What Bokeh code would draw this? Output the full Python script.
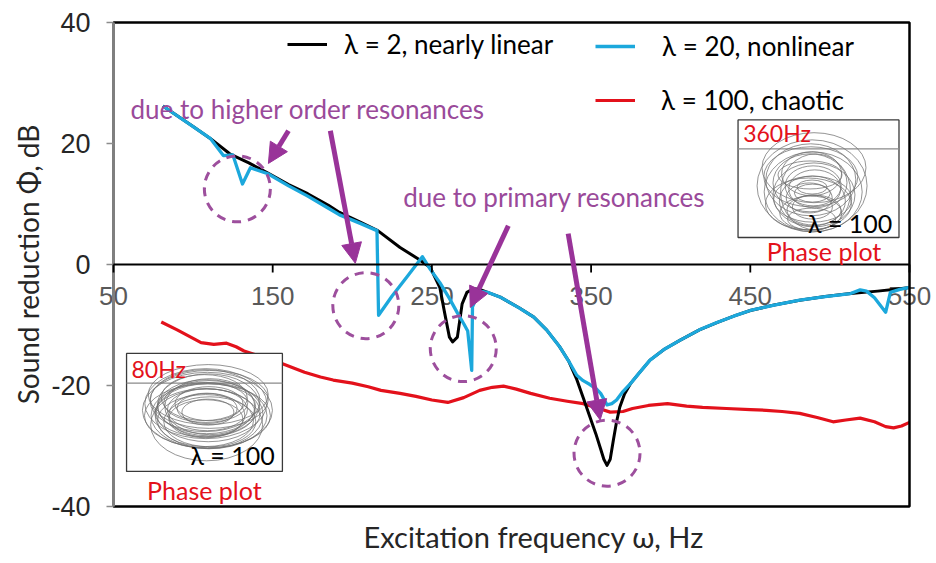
from bokeh.plotting import figure
from bokeh.models import Range1d, Legend, LegendItem, Arrow, NormalHead, FixedTicker, Title
from bokeh.embed import file_html
from bokeh.resources import INLINE
from bokeh.core.properties import value

# ---------------- data ----------------
freq_black = [81, 100, 111, 123, 135, 147, 160, 172, 185, 192, 205, 216, 230, 241, 249, 255, 258, 261,
              263, 266, 269, 272, 276, 280, 285, 293, 305, 314, 322, 330, 336, 341, 345, 349, 353, 356,
              358, 360, 362, 364, 366, 368, 371, 375, 380, 387, 396, 406, 418, 429, 440, 450, 465, 481,
              497, 513, 530, 544, 550]
phi_black = [26.2, 22.8, 20.8, 18.3, 16.8, 15.1, 13.2, 11.7, 9.8, 8.6, 7.0, 5.6, 2.8, 1.0, -0.5, -3.8, -8.0, -12.0,
             -12.8, -12.0, -6.5, -4.6, -4.0, -4.1, -4.6, -5.4, -7.2, -8.7, -10.8, -13.5, -16.0, -19.0, -22.0, -25.0, -28.0, -30.5,
             -32.2, -33.2, -32.2, -29.0, -26.0, -23.6, -21.4, -19.6, -18.0, -15.8, -14.0, -12.5, -10.8, -9.6, -8.5, -7.6, -6.7, -5.9,
             -5.3, -4.8, -4.4, -4.0, -3.8]

freq_cyan = [81, 100, 111, 119, 125, 131, 136, 147, 160, 172, 185, 192, 205, 215.5, 216.5, 225, 235, 244, 249,
             255, 261, 266, 270, 272.5, 275, 275.5, 280, 285, 293, 305, 314, 322, 330, 336, 341, 345, 349,
             353, 356, 360, 363, 366, 370, 375, 380, 387, 396, 406, 418, 429, 440, 450, 465, 481, 497, 513,
             519, 523, 528, 535, 538, 544, 550]
phi_cyan = [26.2, 22.8, 20.8, 18.0, 18.1, 13.3, 16.0, 15.0, 13.0, 11.3, 9.3, 8.2, 6.8, 5.6, -8.4, -5.2, -1.8, 1.3, -0.8,
            -3.0, -5.6, -8.0, -9.8, -11.0, -17.5, -7.0, -4.4, -4.6, -5.4, -7.2, -8.7, -10.8, -13.5, -16.0, -18.3, -19.2, -19.8,
            -20.5, -21.3, -23.2, -23.0, -22.4, -21.0, -19.6, -18.0, -15.8, -14.0, -12.5, -10.8, -9.6, -8.5, -7.6, -6.7, -5.9, -5.3, -4.8,
            -4.2, -4.4, -5.5, -7.9, -4.6, -4.1, -3.8]

freq_red = [80, 90, 100, 105, 113, 121, 127, 132, 140, 150, 159, 170, 180, 188, 200, 210, 218, 230, 240, 250,
            260, 270, 280, 288, 295, 303, 312, 324, 335, 345, 355, 362, 370, 376, 386, 398, 410, 420, 435, 450,
            460, 470, 481, 492, 502, 510, 519, 528, 535, 540, 545, 550]
phi_red = [-9.5, -10.8, -12.2, -12.9, -13.2, -13.0, -13.6, -14.3, -15.0, -15.8, -16.7, -17.8, -18.6, -19.1, -19.6, -20.2, -20.8, -21.3, -21.8, -22.4,
           -22.8, -22.0, -20.8, -20.3, -20.1, -20.6, -21.3, -22.1, -22.6, -23.0, -23.8, -24.4, -24.3, -23.8, -23.3, -23.0, -23.4, -23.6, -23.8, -24.0,
           -24.1, -24.3, -24.6, -25.3, -26.0, -25.7, -25.4, -26.0, -26.8, -27.0, -26.7, -26.1]

x_ticks = [50, 150, 250, 350, 450, 550]
x_tick_labels = ["50", "150", "250", "350", "450", "550"]
y_ticks = [-40, -20, 0, 20, 40]
y_tick_labels = {-40: "-40", -20: "-20", 0: "0", 20: "20", 40: "40"}
X_MIN, X_MAX, Y_MIN, Y_MAX = 50, 550, -40, 40

series_labels = ["\u03bb = 2, nearly linear", "\u03bb = 20, nonlinear", "\u03bb = 100, chaotic"]
series_colors = ["#000000", "#1ca8dc", "#e3111b"]

# annotations
note_text = ["due to higher order resonances", "due to primary resonances"]
note_x = [60.7, 232.0]
note_y = [25.7, 11.1]
circle_x = [127.8, 208.5, 269.7, 360.0]
circle_y = [12.5, -6.8, -13.9, -31.2]
arrow_x0 = [159.9, 186.2, 298.0, 335.6]
arrow_y0 = [22.1, 22.1, 6.4, 5.1]
arrow_x1 = [147.3, 201.9, 274.1, 355.7]
arrow_y1 = [16.7, 0.2, -7.1, -25.7]

# insets (phase plots)
inset_left = [442.3, 58.2]
inset_right = [543.4, 156.1]
inset_top = [23.9, -14.7]
inset_bottom = [4.46, -34.2]
inset_axis_y = [19.1, -19.6]
inset_freq = ["360Hz", "80Hz"]
inset_freq_x = [445.5, 61.3]
inset_freq_y = [21.8, -17.2]
inset_lam_x = [486.3, 98.3]
inset_lam_y = [6.9, -31.5]
inset_pp_x = [496.3, 107.1]
inset_pp_y = [2.3, -37.3]
loop1_x = [488.8, 489.5, 488.0, 490.0, 487.5, 489.0, 488.5, 490.5, 487.0, 489.0, 488.0, 491.0, 486.5, 489.5,
           488.0, 490.0, 488.5, 489.0, 487.5, 490.0, 488.8, 489.2]
loop1_y = [13.0, 12.0, 14.0, 11.5, 13.5, 10.5, 15.0, 12.5, 11.0, 9.5, 14.5, 12.0, 10.0, 13.0,
           8.5, 16.0, 7.5, 11.8, 14.8, 9.0, 12.8, 10.8]
loop1_w = [110, 98, 90, 82, 74, 66, 60, 52, 46, 40, 94, 70, 86, 56, 62, 104, 48, 36, 64, 54, 30, 78]
loop1_h = [92, 80, 72, 64, 58, 50, 44, 38, 30, 24, 60, 76, 52, 40, 34, 70, 22, 18, 28, 30, 14, 46]
loop2_x = [109.0, 108.0, 110.0, 107.5, 109.5, 108.5, 110.5, 107.0, 109.0, 108.0, 110.0, 109.5, 108.5, 107.5,
           110.5, 109.0, 108.0, 110.0, 108.8, 109.3, 107.8, 110.2, 108.6, 109.6]
loop2_y = [-24.1, -23.0, -25.0, -22.5, -24.5, -23.5, -26.0, -22.0, -24.0, -25.5, -23.0, -21.5, -26.5, -24.5,
           -23.5, -25.0, -22.8, -24.8, -23.8, -24.4, -25.8, -22.3, -24.9, -23.2]
loop2_w = [130, 122, 116, 110, 104, 98, 92, 86, 80, 74, 68, 120, 112, 100, 90, 126, 84, 108, 60, 52, 96, 118, 76, 102]
loop2_h = [76, 70, 66, 62, 58, 54, 50, 46, 42, 38, 34, 60, 72, 48, 56, 64, 40, 68, 30, 26, 52, 58, 44, 62]

PURPLE = "#993399"
PURPLE_TXT = "#9a4a9a"
TXT_FONT = "Lato"

# ---------------- layout geometry ----------------
W, H = 936, 563
BOX_L, BOX_R, BOX_T, BOX_B = 113, 909, 22, 506      # pixel box of the data area 50..550 / -40..40
FR_L, FR_R, FR_T, FR_B = 93, 933, 20, 508           # plotting frame (slightly larger, so edge labels show)
px_x = (BOX_R - BOX_L) / (X_MAX - X_MIN)
px_y = (BOX_B - BOX_T) / (Y_MAX - Y_MIN)
xr = Range1d(X_MIN - (BOX_L - FR_L) / px_x, X_MAX + (FR_R - BOX_R) / px_x)
yr = Range1d(Y_MIN - (FR_B - BOX_B) / px_y, Y_MAX + (BOX_T - FR_T) / px_y)

p = figure(width=W, height=H, x_range=xr, y_range=yr,
           output_backend="svg", toolbar_location=None,
           min_border_left=FR_L, min_border_right=W - FR_R, min_border_top=FR_T, min_border_bottom=H - FR_B)
p.background_fill_color = "white"
p.border_fill_color = "white"
p.grid.visible = False
p.outline_line_color = None

p.xaxis.visible = False
p.yaxis.ticker = FixedTicker(ticks=y_ticks)
p.yaxis.major_label_overrides = y_tick_labels
p.yaxis.minor_tick_line_color = None
p.yaxis.major_tick_line_color = None
p.yaxis.major_tick_in = 0
p.yaxis.major_tick_out = 0
p.yaxis.axis_line_color = None
p.yaxis.major_label_standoff = 3
p.yaxis.major_label_text_font = "Liberation Sans"
p.yaxis.major_label_text_font_size = "27px"
p.yaxis.major_label_text_color = "#262626"

# x tick labels below the zero line (drawn first, curves go over them)
p.text(x=x_ticks, y=[0] * len(x_ticks), text=x_tick_labels, y_offset=22,
       text_align="center", text_baseline="top", text_font=value("Liberation Sans"),
       text_font_size="26px", text_color="#595959")

# curves
r_red = p.line(freq_red, phi_red, line_color=series_colors[2], line_width=3.2, line_join="round")
r_black = p.line(freq_black, phi_black, line_color=series_colors[0], line_width=3, line_join="round")
r_cyan = p.line(freq_cyan, phi_cyan, line_color=series_colors[1], line_width=3.3, line_join="round")

# frame box, zero line, ticks
p.quad(left=[X_MIN], right=[X_MAX], top=[Y_MAX], bottom=[Y_MIN], fill_color=None,
       line_color="black", line_width=2.5)
p.segment(x0=[X_MIN], y0=[Y_MIN], x1=[X_MIN], y1=[Y_MAX], line_color="#7f7f7f", line_width=3)
p.segment(x0=[X_MIN - 7 / px_x] * len(y_ticks), y0=y_ticks, x1=[X_MIN] * len(y_ticks), y1=y_ticks,
          line_color="#8c8c8c", line_width=1.5)
p.segment(x0=[X_MIN], y0=[0], x1=[X_MAX], y1=[0], line_color="black", line_width=1.8)
p.segment(x0=x_ticks, y0=[0] * len(x_ticks), x1=x_ticks, y1=[-8 / px_y] * len(x_ticks),
          line_color="black", line_width=1.8)

# insets
p.quad(left=inset_left, right=inset_right, top=inset_top, bottom=inset_bottom,
       fill_color="white", line_color="#3a3a3a", line_width=1.3)
p.segment(x0=inset_left, y0=inset_axis_y, x1=inset_right, y1=inset_axis_y, line_color="#8a8a8a", line_width=1.3)
p.ellipse(x=loop1_x, y=loop1_y, width=loop1_w, height=loop1_h, width_units="screen", height_units="screen",
          fill_color=None, line_color="#707070", line_alpha=0.75, line_width=1)
p.ellipse(x=loop2_x, y=loop2_y, width=loop2_w, height=loop2_h, width_units="screen", height_units="screen",
          fill_color=None, line_color="#707070", line_alpha=0.75, line_width=1)
p.text(x=inset_freq_x, y=inset_freq_y, text=inset_freq, text_align="left", text_baseline="middle",
       text_font=value(TXT_FONT), text_font_size="23px", text_color="#e3111b")
p.text(x=inset_lam_x, y=inset_lam_y, text=["\u03bb = 100"] * 2, text_align="left", text_baseline="middle",
       text_font=value(TXT_FONT), text_font_size="25px", text_color="black")
p.text(x=inset_pp_x, y=inset_pp_y, text=["Phase plot"] * 2, text_align="center", text_baseline="middle",
       text_font=value(TXT_FONT), text_font_size="25px", text_color="#e3111b")

# annotation circles, arrows, texts
p.scatter(x=circle_x, y=circle_y, size=66, marker="circle", fill_color=None,
          line_color="#9d4f9d", line_width=3, line_dash="9 7")
for xs, ys, xe, ye in zip(arrow_x0, arrow_y0, arrow_x1, arrow_y1):
    p.add_layout(Arrow(end=NormalHead(size=20, fill_color=PURPLE, line_color=PURPLE),
                       x_start=xs, y_start=ys, x_end=xe, y_end=ye,
                       line_color=PURPLE, line_width=5))
p.text(x=note_x, y=note_y, text=note_text, text_align="left", text_baseline="middle",
       text_font=value(TXT_FONT), text_font_size="26px", text_color=PURPLE_TXT)

# legends (locations relative to the frame's bottom-left corner)
leg_r = [r_black, r_cyan, r_red]
leg_px = [(287, 60), (595, 62), (595, 116)]   # left / bottom pixel of each legend entry
leg_standoff = [17, 27, 26]
for r, lab, (lx, lb), so in zip(leg_r, series_labels, leg_px, leg_standoff):
    lg = Legend(items=[LegendItem(label=lab, renderers=[r])], location=(lx - FR_L, FR_B - lb),
                glyph_width=40, glyph_height=24, label_height=24, label_standoff=so,
                padding=0, margin=0, border_line_color=None, background_fill_alpha=0,
                label_text_font=TXT_FONT, label_text_font_size="26px", label_text_color="black")
    p.add_layout(lg, "center")

# axis titles
p.add_layout(Title(text="Excitation frequency \u03c9, Hz", align="left", offset=363 - FR_L,
                   text_font=TXT_FONT, text_font_size="29px", text_font_style="normal",
                   text_color="#262626", standoff=16), "below")
p.add_layout(Title(text="Sound reduction \u03a6, dB", align="center", offset=24,
                   text_font=TXT_FONT, text_font_size="28px", text_font_style="normal",
                   text_color="#262626", standoff=8), "left")

open("out.html", "w").write(file_html(p, INLINE))
